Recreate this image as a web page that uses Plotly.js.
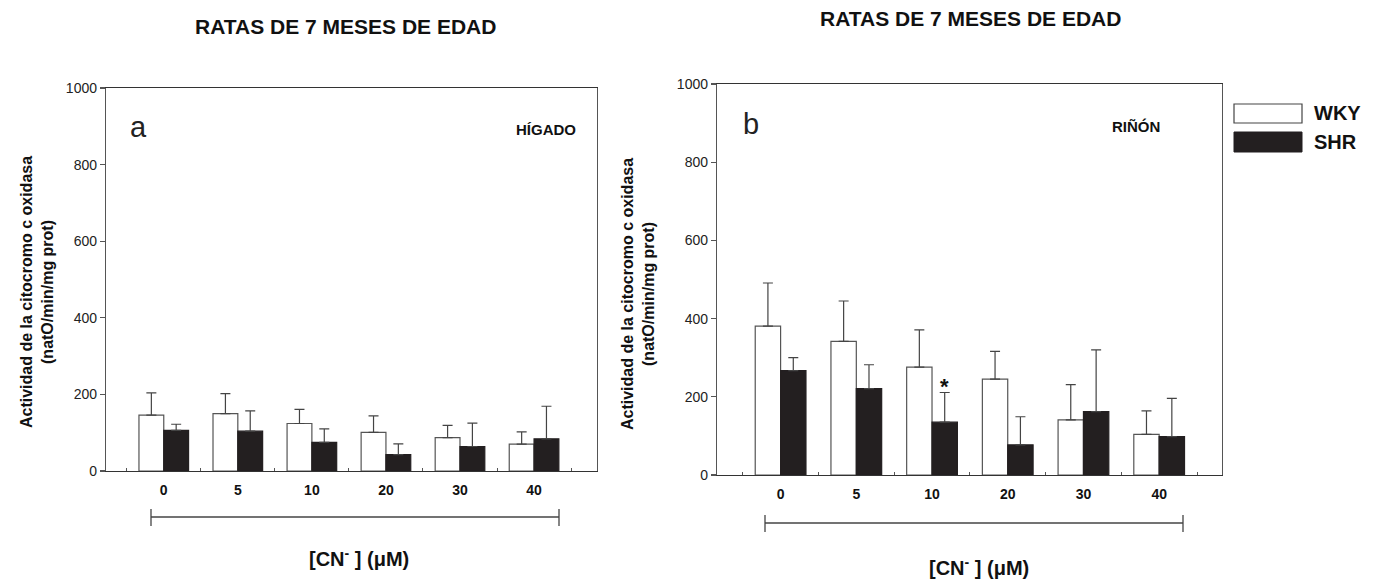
<!DOCTYPE html>
<html>
<head>
<meta charset="utf-8">
<script src="https://cdn.plot.ly/plotly-3.0.1.min.js"></script>
<style>html,body{margin:0;padding:0;background:#fff;}#chart{width:1380px;height:579px;}</style>
</head>
<body>
<div id="chart"></div>
<script>
// ---- data ----
const categories = ['0', '5', '10', '20', '30', '40'];
// Panel a: HÍGADO (liver)
const liverWKY    = [146, 150, 124, 101, 87, 70];
const liverWKYerr = [58, 52, 37, 43, 32, 32];
const liverSHR    = [106, 104, 75, 43, 64, 84];
const liverSHRerr = [16, 53, 35, 28, 61, 85];
// Panel b: RIÑÓN (kidney)
const kidneyWKY    = [381, 342, 276, 245, 141, 104];
const kidneyWKYerr = [110, 103, 95, 71, 90, 60];
const kidneySHR    = [267, 221, 135, 77, 162, 98];
const kidneySHRerr = [33, 61, 76, 72, 158, 98];
const yTicks = [0, 200, 400, 600, 800, 1000];

// ---- helpers ----
const W = 1380, H = 579;
const px = x => x / W;
const py = y => 1 - y / H;
const FONT = 'Liberation Sans, Arial, Helvetica, sans-serif';
const idx = categories.map((c, i) => i);
const zeros = categories.map(() => 0);

function barTrace(vals, errs, isSHR, xa, ya) {
  return {
    type: 'bar', x: idx, y: vals, xaxis: xa, yaxis: ya,
    name: isSHR ? 'SHR' : 'WKY', showlegend: false,
    marker: {color: isSHR ? '#231f20' : '#ffffff', line: {color: isSHR ? '#231f20' : '#555555', width: 1.2}},
    error_y: {type: 'data', symmetric: false, array: errs, arrayminus: zeros,
              color: '#444444', thickness: 1.2, width: 5}
  };
}

const data = [
  barTrace(liverWKY, liverWKYerr, false, 'x', 'y'),
  barTrace(liverSHR, liverSHRerr, true, 'x', 'y'),
  barTrace(kidneyWKY, kidneyWKYerr, false, 'x2', 'y2'),
  barTrace(kidneySHR, kidneySHRerr, true, 'x2', 'y2')
];

function xAxis(domain, range, anchor) {
  return {
    domain: domain, range: range, type: 'linear', anchor: anchor,
    tickmode: 'array', tickvals: idx, ticktext: categories, ticks: '',
    tickfont: {family: FONT, size: 14, color: '#111', weight: 'bold'},
    ticklabelstandoff: 6,
    showline: true, linecolor: '#333', linewidth: 1.3, mirror: true,
    showgrid: false, zeroline: false, fixedrange: true,
    minor: {tickmode: 'array', tickvals: idx.map(i => i - 0.5).concat([idx.length - 0.5]),
            ticks: 'inside', ticklen: 3, tickcolor: '#555', tickwidth: 1, showgrid: false}
  };
}
function yAxis(domain, anchor) {
  return {
    domain: domain, range: [0, 1000], anchor: anchor,
    tickmode: 'array', tickvals: yTicks, ticks: 'outside', ticklen: 5, tickcolor: '#555', tickwidth: 1.2,
    tickfont: {family: FONT, size: 14, color: '#222'},
    showline: true, linecolor: '#555', linewidth: 1.2, mirror: true,
    showgrid: false, zeroline: false, fixedrange: true
  };
}

const yTitle = 'Actividad de la citocromo c oxidasa<br>(natO/min/mg prot)';
const xTitle = '[CN<sup>-</sup> ] (μM)';
const boldFont = (s) => ({family: FONT, size: s, color: '#111', weight: 'bold'});

function note(text, x, y, font, extra) {
  return Object.assign({text: text, x: px(x), y: py(y), xref: 'paper', yref: 'paper',
    xanchor: 'center', yanchor: 'middle', showarrow: false, font: font}, extra || {});
}

const annotations = [
  note('RATAS DE 7 MESES DE EDAD', 345, 27, boldFont(21)),
  note('RATAS DE 7 MESES DE EDAD', 970, 19, boldFont(21)),
  note(yTitle, 37, 292, boldFont(16), {textangle: -90}),
  note(yTitle, 638, 294, boldFont(16), {textangle: -90}),
  note('a', 128, 127, {family: FONT, size: 29, color: '#222'}, {xanchor: 'left'}),
  note('b', 741, 124, {family: FONT, size: 29, color: '#222'}, {xanchor: 'left'}),
  note('HÍGADO', 578, 129, boldFont(15), {xanchor: 'right'}),
  note('RIÑÓN', 1162, 127, boldFont(15), {xanchor: 'right'}),
  note(xTitle, 359, 557, boldFont(20)),
  note(xTitle, 979, 566, boldFont(20)),
  note('WKY', 1312, 113, boldFont(20), {xanchor: 'left'}),
  note('SHR', 1312, 142, boldFont(20), {xanchor: 'left'}),
  {text: '*', x: 2 + 0.1675, y: kidneySHR[2] + kidneySHRerr[2], xref: 'x2', yref: 'y2',
   xanchor: 'center', yanchor: 'bottom', yshift: -8, showarrow: false, font: boldFont(22)}
];

const line = {color: '#444', width: 1.3};
const shapes = [
  // brackets under x axes
  {type: 'line', xref: 'paper', yref: 'paper', x0: px(151), x1: px(559), y0: py(517), y1: py(517), line: line},
  {type: 'line', xref: 'paper', yref: 'paper', x0: px(151), x1: px(151), y0: py(509), y1: py(526), line: line},
  {type: 'line', xref: 'paper', yref: 'paper', x0: px(559), x1: px(559), y0: py(509), y1: py(526), line: line},
  {type: 'line', xref: 'paper', yref: 'paper', x0: px(765), x1: px(1183), y0: py(523), y1: py(523), line: line},
  {type: 'line', xref: 'paper', yref: 'paper', x0: px(765), x1: px(765), y0: py(515), y1: py(532), line: line},
  {type: 'line', xref: 'paper', yref: 'paper', x0: px(1183), x1: px(1183), y0: py(515), y1: py(532), line: line},
  // legend swatches
  {type: 'rect', xref: 'paper', yref: 'paper', x0: px(1234), x1: px(1302), y0: py(104), y1: py(123), fillcolor: '#fff', line: {color: '#444', width: 1.2}},
  {type: 'rect', xref: 'paper', yref: 'paper', x0: px(1234), x1: px(1302), y0: py(132), y1: py(152), fillcolor: '#231f20', line: {color: '#231f20', width: 1}}
];

const layout = {
  width: W, height: H,
  margin: {l: 0, r: 0, t: 0, b: 0},
  paper_bgcolor: '#fff', plot_bgcolor: '#fff',
  barmode: 'group', bargap: 0.33, bargroupgap: 0,
  showlegend: false,
  font: {family: FONT, color: '#222'},
  xaxis: xAxis([px(106), px(597)], [-0.78, 5.85], 'y'),
  yaxis: yAxis([py(471), py(88)], 'x'),
  xaxis2: xAxis([px(717), px(1222)], [-0.84, 5.83], 'y2'),
  yaxis2: yAxis([py(475), py(84)], 'x2'),
  annotations: annotations,
  shapes: shapes
};

Plotly.newPlot('chart', data, layout, {staticPlot: true, displayModeBar: false});
</script>
</body>
</html>
